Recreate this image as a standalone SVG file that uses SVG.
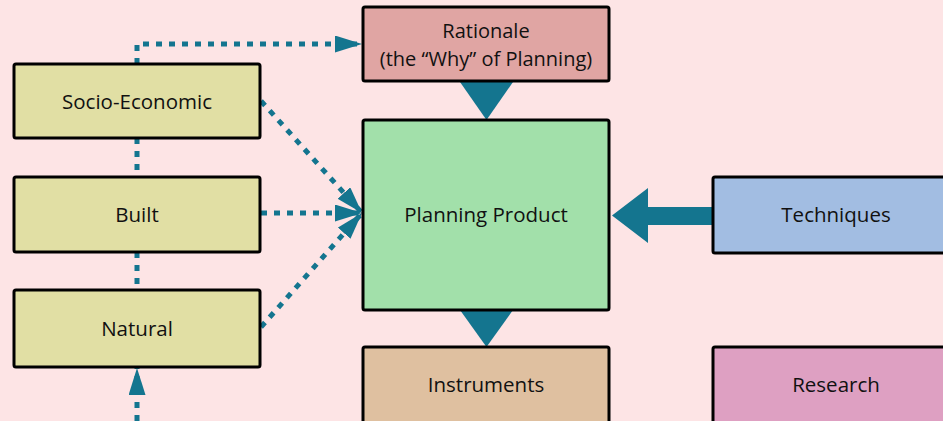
<svg xmlns="http://www.w3.org/2000/svg" width="943" height="421" viewBox="0 0 943 421">
<defs>
<style>
.box{stroke:#000;stroke-width:3}
.t{font-family:"Open Sans","Noto Sans",sans-serif;font-size:20.5px;fill:#111;text-anchor:middle;dominant-baseline:central}
.t2{font-size:20px}
.dot{fill:none;stroke:#14758F;stroke-width:5;stroke-dasharray:6 7}
.solid{fill:#14758F}
</style>
<marker id="ah" markerUnits="userSpaceOnUse" markerWidth="28" markerHeight="18" refX="27" refY="8.5" orient="auto" viewBox="0 0 28 18">
<path d="M0,0 L27,8.5 L0,17 Z" fill="#14758F"/>
</marker>
</defs>
<rect width="943" height="421" fill="#FDE4E5"/>
<g id="connectors">
<path class="dot" d="M137,64 V44 H362" marker-end="url(#ah)"/>
<path class="dot" d="M261,101 L362,213" marker-end="url(#ah)"/>
<path class="dot" d="M261,213 L362,213" marker-end="url(#ah)"/>
<path class="dot" d="M261,327 L362,213" marker-end="url(#ah)"/>
<path class="dot" d="M137,138 V177"/>
<path class="dot" d="M137,252 V290"/>
<path class="dot" d="M137,421 V368" marker-end="url(#ah)"/>
<polygon class="solid" points="460,82 513,82 486.5,120"/>
<polygon class="solid" points="460,310 513,310 486.5,347"/>
<polygon class="solid" points="713,207 648,207 648,188 612,215.5 648,243 648,225 713,225"/>
</g>
<g id="socio"><rect class="box" x="14" y="64" width="246" height="74" rx="2" fill="#E1DFA4"/><text class="t" x="137" y="101">Socio-Economic</text></g>
<g id="built"><rect class="box" x="14" y="177" width="246" height="75" rx="2" fill="#E1DFA4"/><text class="t" x="137" y="214">Built</text></g>
<g id="natural"><rect class="box" x="14" y="290" width="246" height="77" rx="2" fill="#E1DFA4"/><text class="t" x="137" y="328">Natural</text></g>
<g id="rationale"><rect class="box" x="363" y="7" width="246" height="74" rx="2" fill="#E0A5A3"/><text class="t t2" x="486" y="30.5">Rationale</text><text class="t t2" x="486" y="58">(the “Why” of Planning)</text></g>
<g id="planning"><rect class="box" x="363" y="120" width="246" height="190" rx="2" fill="#A2E0AA"/><text class="t" x="486" y="214">Planning Product</text></g>
<g id="techniques"><rect class="box" x="713" y="177" width="246" height="76" rx="2" fill="#A2BDE2"/><text class="t" x="836" y="214">Techniques</text></g>
<g id="instruments"><rect class="box" x="363" y="347" width="246" height="90" rx="2" fill="#DFC0A0"/><text class="t" x="486" y="384">Instruments</text></g>
<g id="research"><rect class="box" x="713" y="347" width="246" height="90" rx="2" fill="#DEA0C2"/><text class="t" x="836" y="384">Research</text></g>
</svg>
